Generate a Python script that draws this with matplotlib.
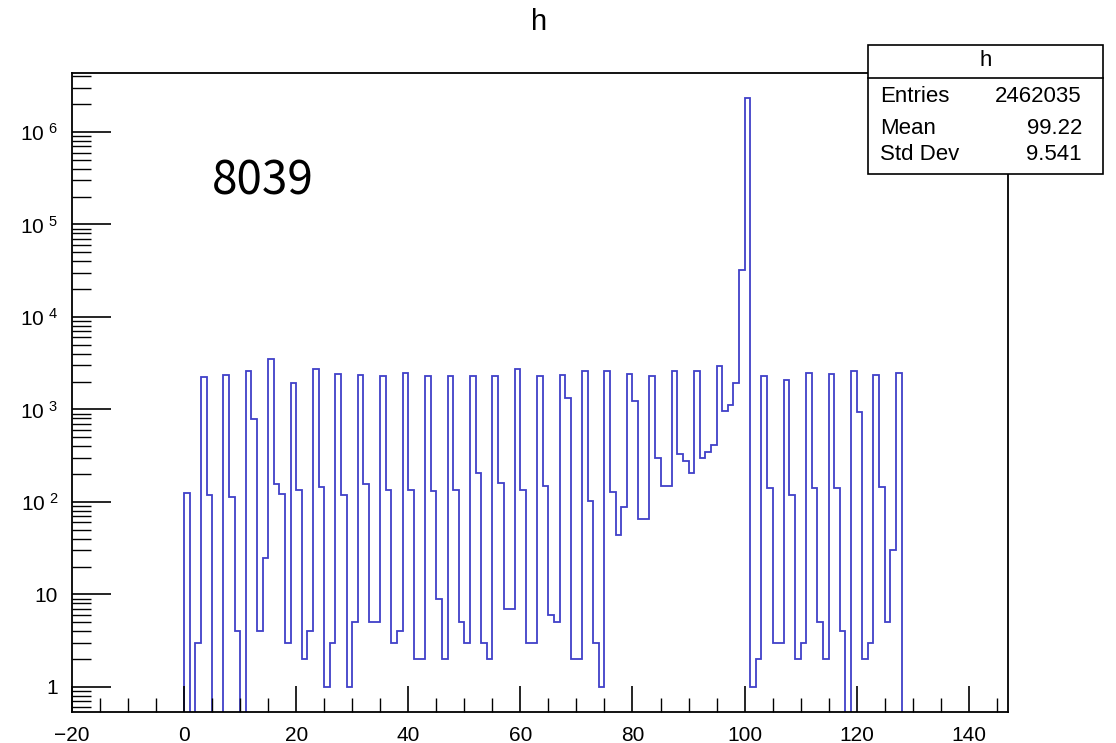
import numpy as np
import matplotlib
matplotlib.use('Agg')
import matplotlib.pyplot as plt
from matplotlib.ticker import FixedLocator, MultipleLocator, LogLocator, FuncFormatter, NullFormatter
from matplotlib.patches import Rectangle
from matplotlib.lines import Line2D

plt.rcParams['font.family'] = ['Liberation Sans', 'DejaVu Sans']
plt.rcParams['mathtext.fontset'] = 'custom'
plt.rcParams['mathtext.rm'] = 'Liberation Sans'

# bin contents of h, one bin per unit starting at 0
counts = [126, 0, 3, 2240, 119, 0, 0, 2380, 114, 4,
          0, 2610, 792, 4, 25, 3470, 158, 121, 3, 1930,
          134, 2, 4, 2770, 146, 1, 3, 2400, 119, 1,
          5, 2340, 156, 5, 5, 2285, 134, 3, 4, 2480,
          134, 2, 2, 2285, 132, 9, 2, 2285, 134, 5,
          3, 2320, 203, 3, 2, 2285, 162, 7, 7, 2770,
          134, 3, 3, 2285, 147, 6, 5, 2380, 1340, 2,
          2, 2590, 103, 3, 1, 2610, 128, 44, 89, 2400,
          1232, 66, 66, 2320, 296, 149, 149, 2590, 330, 274,
          203, 2610, 298, 349, 413, 2960, 951, 1123, 1930, 32400,
          2320000, 1, 2, 2285, 143, 3, 3, 2100, 118, 2,
          3, 2500, 140, 5, 2, 2400, 140, 4, 0, 2610,
          935, 2, 3, 2380, 146, 5, 30, 2480]
bin_lo = 0
hist_title = 'h'
label = '8039'
stat_names = ['Entries', 'Mean', 'Std Dev']
stat_values = ['2462035', '99.22', '9.541']

edges = np.arange(bin_lo, bin_lo + len(counts) + 1)
vals = np.array(counts, dtype=float)
floor = 1e-3
vals[vals <= 0] = floor

fig = plt.figure(figsize=(11.16, 7.43), dpi=100)
ax = fig.add_axes([72/1116, 1 - 712/743, 936/1116, 639/743])

ax.stairs(vals, edges, baseline=floor, color='#4040c8', lw=1.3)

ax.set_yscale('log')
ax.set_xlim(-20, 147)
ax.set_ylim(0.534, 4.35e6)

ax.xaxis.set_major_locator(MultipleLocator(20))
ax.xaxis.set_minor_locator(MultipleLocator(5))
ax.yaxis.set_major_locator(FixedLocator([1, 10, 1e2, 1e3, 1e4, 1e5, 1e6]))
ax.yaxis.set_minor_locator(LogLocator(base=10, subs=np.arange(2, 10), numticks=20))
ax.yaxis.set_minor_formatter(NullFormatter())

def ylab(v, pos):
    n = int(round(np.log10(v)))
    if n == 0:
        return '1'
    if n == 1:
        return '10'
    return r'$\mathregular{10^{\ %d}}$' % n

ax.yaxis.set_major_formatter(FuncFormatter(ylab))
ax.xaxis.set_major_formatter(FuncFormatter(lambda v, p: ('%d' % v).replace('-', '\u2212')))

ax.tick_params(axis='x', which='major', direction='in', length=19, width=1.2, labelsize=15, pad=10)
ax.tick_params(axis='x', which='minor', direction='in', length=10, width=1.0)
ax.tick_params(axis='y', which='major', direction='in', length=28, width=1.2, labelsize=15, pad=10)
ax.tick_params(axis='y', which='minor', direction='in', length=14, width=1.0)
for s in ax.spines.values():
    s.set_linewidth(1.3)

ax.text(0.149, 0.831, label, transform=ax.transAxes, ha='left', va='center',
        fontsize=33, family=['Noto Sans CJK JP', 'DejaVu Sans'])

fig.text(539/1116, 1 - 22/743, hist_title, ha='center', va='center', fontsize=21)

# stats box
W, H = 1116, 743
bx0, bx1, by0, by1 = 868, 1103, 45, 174
fig.patches.append(Rectangle((bx0/W, 1 - by1/H), (bx1 - bx0)/W, (by1 - by0)/H,
                             transform=fig.transFigure, facecolor='white',
                             edgecolor='black', lw=1.2, zorder=5))
fig.lines.append(Line2D([bx0/W, bx1/W], [1 - 78/H, 1 - 78/H], transform=fig.transFigure,
                        color='black', lw=1.2, zorder=6))
fig.text((bx0 + bx1)/2/W, 1 - 61/H, hist_title, ha='center', va='center', fontsize=16, zorder=7)
rows_y = [96, 128, 155]
for name, val, yy in zip(stat_names, stat_values, rows_y):
    fig.text(880/W, 1 - yy/H, name, ha='left', va='center', fontsize=16, zorder=7)
    fig.text(1082/W, 1 - yy/H, val, ha='right', va='center', fontsize=16, zorder=7)

fig.savefig('out.png', dpi=100)
